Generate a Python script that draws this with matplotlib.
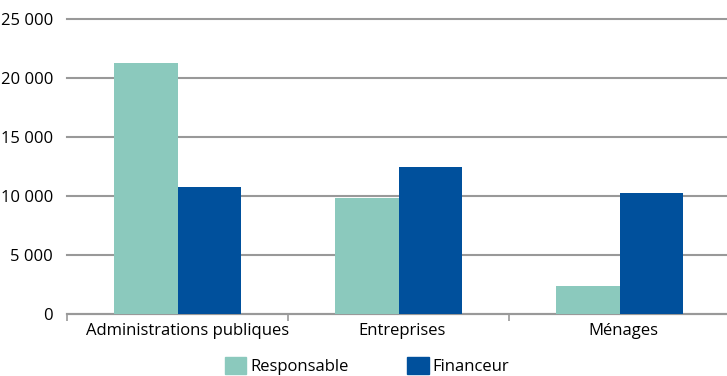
import matplotlib
matplotlib.use("Agg")
from matplotlib import pyplot as plt
from matplotlib.patches import Patch
from matplotlib.transforms import ScaledTranslation
import numpy as np

categories = ["Administrations publiques", "Entreprises", "Ménages"]
responsable = [21300, 9820, 2340]
financeur = [10760, 12460, 10250]
series_names = ["Responsable", "Financeur"]
y_ticks = [0, 5000, 10000, 15000, 20000, 25000]
y_labels = ["0", "5 000", "10 000", "15 000", "20 000", "25 000"]

plt.rcParams["font.family"] = ["Open Sans", "DejaVu Sans"]
plt.rcParams["font.size"] = 12

c_resp = "#8BC9BD"
c_fin = "#00509C"
grid_color = "#999999"

fig = plt.figure(figsize=(7.27, 3.76), dpi=100)
ax = fig.add_axes([67 / 727, 62.5 / 376, 663 / 727, 294 / 376])

x = np.arange(len(categories))
w = 0.288
ax.bar(x - w / 2, responsable, width=w, color=c_resp, zorder=3)
ax.bar(x + w / 2, financeur, width=w, color=c_fin, zorder=3)

ax.set_xlim(-0.5, 2.5)
ax.set_ylim(0, 25000)
ax.set_yticks(y_ticks)
ax.set_yticklabels(y_labels)
ax.yaxis.grid(True, color=grid_color, linewidth=1.5, zorder=0)
for gl in ax.get_ygridlines():
    gl.set_clip_on(False)
ax.tick_params(axis="y", length=0, pad=10)

# category labels centered, tick marks at group boundaries
ax.set_xticks(x)
ax.set_xticklabels(categories)
ax.set_xticks(np.arange(-0.5, 3, 1), minor=True)
ax.tick_params(axis="x", which="major", length=0, pad=7)
ax.tick_params(axis="x", which="minor", length=5, color=grid_color, width=1.2)
shifts = [10, 4, 4]
for lab, dx in zip(ax.get_xticklabels(), shifts):
    lab.set_transform(lab.get_transform() + ScaledTranslation(dx / 100, 0, fig.dpi_scale_trans))

for s in ["top", "right", "left"]:
    ax.spines[s].set_visible(False)
ax.spines["bottom"].set_color(grid_color)
ax.spines["bottom"].set_linewidth(1.5)

handles = [Patch(color=c_resp), Patch(color=c_fin)]
fig.legend(handles, series_names, loc="center", bbox_to_anchor=(367 / 727, 10 / 376),
           ncol=2, frameon=False, handlelength=1.3, handleheight=1.2,
           handletextpad=0.25, columnspacing=3.5, borderpad=0, borderaxespad=0)

fig.savefig("out.png", dpi=100)
